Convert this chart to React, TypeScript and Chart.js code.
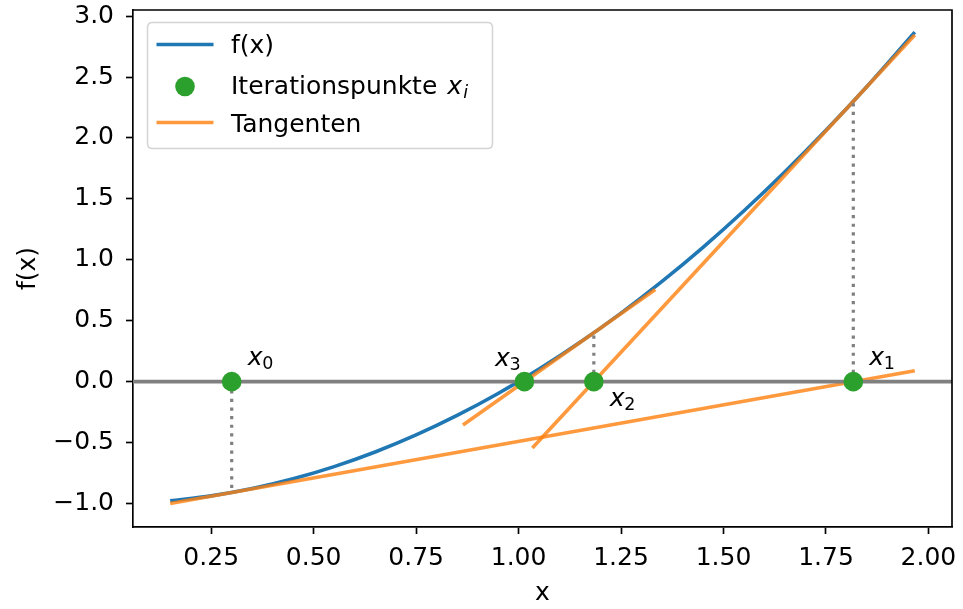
import React, { useEffect, useRef } from "react";
import { Chart, registerables } from "chart.js";

Chart.register(...registerables);

// ---- data ----
const curveX = [0.15, 0.25, 0.35, 0.45, 0.55, 0.65, 0.75, 0.85, 0.95, 1.05, 1.15, 1.25, 1.35, 1.45, 1.55, 1.65, 1.75, 1.85, 1.9667];
const curveY = [-0.9775, -0.9375, -0.8775, -0.7975, -0.6975, -0.5775, -0.4375, -0.2775, -0.0975, 0.1025, 0.3225, 0.5625, 0.8225, 1.1025, 1.4025, 1.7225, 2.0625, 2.4225, 2.868];

const iterX = [0.3, 1.8167, 1.1836, 1.0142];
const iterY = [0, 0, 0, 0];
const iterFx = [-0.91, 2.3003, 0.4009, 0.0286];
const iterSub = ["0", "1", "2", "3"];

const tangentX0 = [0.15, 1.0336, 0.8642];
const tangentY0 = [-1.0, -0.545, -0.3552];
const tangentX1 = [1.9667, 1.9667, 1.3336];
const tangentY1 = [0.09, 2.8453, 0.756];

const xLimits = [0.0592, 2.0575];
const yLimits = [-1.193, 3.05];
const xStep = 0.25;
const yStep = 0.5;

const legendLabels = ["f(x)", "Iterationspunkte ", "Tangenten"];
const xTitle = "x";
const yTitle = "f(x)";

// ---- styles ----
const FONT = "DejaVu Sans";
const BLUE = "#1f77b4";
const ORANGE = "rgba(255,127,14,0.8)";
const GREEN = "#2ca02c";
const GRAY = "#808080";
const LW = 3.6;
const labelOffsets = [
  [16, -17],
  [16, -17],
  [16, 24],
  [-29.5, -16],
];

const overlay = {
  id: "overlay",
  afterDraw(chart: any) {
    const { ctx, chartArea: ca, scales } = chart;
    const xs = scales.x;
    const ys = scales.y;
    ctx.save();
    // top & right frame
    ctx.strokeStyle = "#000";
    ctx.lineWidth = 1.67;
    ctx.beginPath();
    ctx.moveTo(ca.left, ca.top);
    ctx.lineTo(ca.right, ca.top);
    ctx.lineTo(ca.right, ca.bottom);
    ctx.stroke();

    // iteration labels
    ctx.fillStyle = "#000";
    ctx.textAlign = "left";
    ctx.textBaseline = "alphabetic";
    iterX.forEach((xv, i) => {
      const px = xs.getPixelForValue(xv) + labelOffsets[i][0];
      const py = ys.getPixelForValue(iterY[i]) + labelOffsets[i][1];
      ctx.font = `italic 25px "${FONT}"`;
      ctx.fillText("x", px, py);
      ctx.font = `17.5px "${FONT}"`;
      ctx.fillText(iterSub[i], px + 14.5, py + 4.5);
    });

    // legend
    const lx = 147.5, ly = 22.5, lw = 345, lh = 126, r = 5;
    ctx.beginPath();
    ctx.moveTo(lx + r, ly);
    ctx.lineTo(lx + lw - r, ly);
    ctx.quadraticCurveTo(lx + lw, ly, lx + lw, ly + r);
    ctx.lineTo(lx + lw, ly + lh - r);
    ctx.quadraticCurveTo(lx + lw, ly + lh, lx + lw - r, ly + lh);
    ctx.lineTo(lx + r, ly + lh);
    ctx.quadraticCurveTo(lx, ly + lh, lx, ly + lh - r);
    ctx.lineTo(lx, ly + r);
    ctx.quadraticCurveTo(lx, ly, lx + r, ly);
    ctx.closePath();
    ctx.fillStyle = "rgba(255,255,255,0.8)";
    ctx.fill();
    ctx.strokeStyle = "#d4d4d4";
    ctx.lineWidth = 1.5;
    ctx.stroke();

    ctx.lineWidth = LW;
    ctx.strokeStyle = BLUE;
    ctx.beginPath();
    ctx.moveTo(156.5, 44.5);
    ctx.lineTo(213.5, 44.5);
    ctx.stroke();
    ctx.fillStyle = GREEN;
    ctx.beginPath();
    ctx.arc(185, 86.5, 9.8, 0, Math.PI * 2);
    ctx.fill();
    ctx.strokeStyle = ORANGE;
    ctx.beginPath();
    ctx.moveTo(156.5, 122.5);
    ctx.lineTo(213.5, 122.5);
    ctx.stroke();

    ctx.fillStyle = "#000";
    ctx.font = `25px "${FONT}"`;
    ctx.fillText(legendLabels[0], 231, 52.5);
    ctx.fillText(legendLabels[1], 231, 93.5);
    const w = ctx.measureText(legendLabels[1]).width;
    ctx.font = `italic 25px "${FONT}"`;
    ctx.fillText("x", 233 + w, 93.5);
    ctx.font = `italic 17.5px "${FONT}"`;
    ctx.fillText("i", 233 + w + 16, 98);
    ctx.font = `25px "${FONT}"`;
    ctx.fillText(legendLabels[2], 231, 131.5);

    // axis titles
    ctx.textAlign = "center";
    ctx.fillText(xTitle, (ca.left + ca.right) / 2, 600);
    ctx.translate(35, (ca.top + ca.bottom) / 2);
    ctx.rotate(-Math.PI / 2);
    ctx.fillText(yTitle, 0, 0);
    ctx.restore();
  },
};

export default function App() {
  const ref = useRef<HTMLCanvasElement>(null);
  useEffect(() => {
    const curveData = curveX.map((x, i) => ({ x, y: curveY[i] }));
    const pointData = iterX.map((x, i) => ({ x, y: iterY[i] }));
    const dotted = iterX.slice(0, 3).map((x, i) => ({
      type: "line" as const,
      data: [
        { x, y: iterY[i] },
        { x, y: iterFx[i] },
      ],
      borderColor: GRAY,
      borderWidth: 3.2,
      borderDash: [3.2, 5.4],
      borderCapStyle: "butt" as const,
      pointRadius: 0,
      order: 1,
    }));
    const tangents = tangentX0.map((x, i) => ({
      type: "line" as const,
      data: [
        { x, y: tangentY0[i] },
        { x: tangentX1[i], y: tangentY1[i] },
      ],
      borderColor: ORANGE,
      borderWidth: LW,
      pointRadius: 0,
      order: 3,
    }));
    const chart = new Chart(ref.current!, {
      type: "line",
      data: {
        datasets: [
          {
            data: pointData,
            showLine: false,
            pointRadius: 9.8,
            pointBackgroundColor: GREEN,
            pointBorderWidth: 0,
            order: 0,
          },
          ...dotted,
          {
            data: [
              { x: xLimits[0], y: 0 },
              { x: xLimits[1], y: 0 },
            ],
            borderColor: GRAY,
            borderWidth: LW,
            pointRadius: 0,
            order: 2,
          },
          ...tangents,
          {
            data: curveData,
            borderColor: BLUE,
            borderWidth: LW,
            pointRadius: 0,
            cubicInterpolationMode: "monotone",
            order: 4,
          },
        ] as any,
      },
      options: {
        animation: false,
        responsive: false,
        devicePixelRatio: 1,
        layout: { padding: { left: 0, top: 10, right: 11, bottom: 0 } },
        plugins: { legend: { display: false }, tooltip: { enabled: false } },
        events: [],
        scales: {
          x: {
            type: "linear",
            position: "bottom",
            min: xLimits[0],
            max: xLimits[1],
            afterFit: (s: any) => {
              s.height = 82;
              s.paddingLeft = 0;
              s.paddingRight = 0;
            },
            grid: { drawOnChartArea: false, drawTicks: true, tickLength: 7, tickColor: "#000", tickWidth: 1.67 },
            border: { display: true, color: "#000", width: 1.67 },
            ticks: {
              stepSize: xStep,
              includeBounds: false,
              maxRotation: 0,
              autoSkip: false,
              color: "#000",
              padding: 9,
              font: { family: FONT, size: 25 },
              callback: (v: any) => Number(v).toFixed(2),
            },
          },
          y: {
            type: "linear",
            min: yLimits[0],
            max: yLimits[1],
            afterFit: (s: any) => {
              s.width = 133;
              s.paddingTop = 0;
              s.paddingBottom = 0;
            },
            grid: { drawOnChartArea: false, drawTicks: true, tickLength: 7, tickColor: "#000", tickWidth: 1.67 },
            border: { display: true, color: "#000", width: 1.67 },
            ticks: {
              stepSize: yStep,
              includeBounds: false,
              autoSkip: false,
              color: "#000",
              padding: 12,
              font: { family: FONT, size: 25 },
              callback: (v: any) => {
                const n = Number(v);
                const s = Math.abs(n).toFixed(1);
                return n < -1e-9 ? "\u2212" + s : s;
              },
            },
          },
        },
      },
      plugins: [overlay],
    });
    return () => chart.destroy();
  }, []);
  return (
    <div style={{ position: "fixed", left: 0, top: 0, width: 963, height: 609, background: "#fff" }}>
      <canvas ref={ref} width={963} height={609} style={{ display: "block", width: 963, height: 609 }} />
    </div>
  );
}
